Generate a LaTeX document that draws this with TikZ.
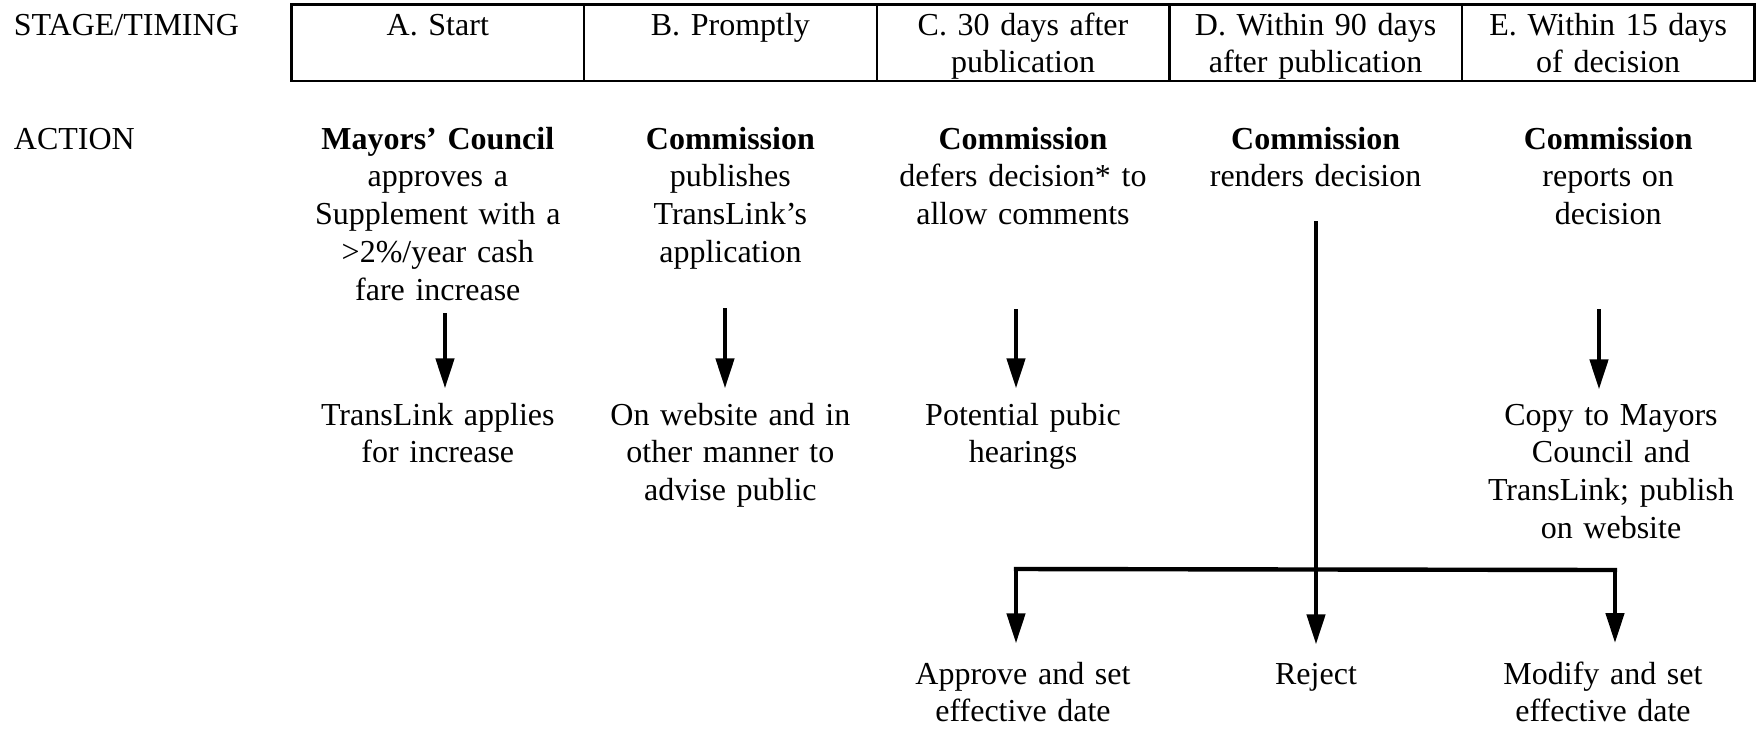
\documentclass[tikz,border=0pt]{standalone}
\usepackage{fontspec}
\setmainfont{Liberation Serif}
\usepackage{tikz}
\usetikzlibrary{arrows.meta, positioning, calc}
\newcommand{\mainsize}{\fontsize{16}{18.9}\selectfont}
\tikzset{
    lbl/.style = {inner sep=0pt, anchor=base west, font=\mainsize},
    txt/.style = {inner sep=0pt, anchor=base, text width=160pt,
        align=center, font=\mainsize},
    cell/.style = {draw, line width=1.2pt},
    arr/.style = {-{Triangle[length=15pt,width=9pt]}, line width=2.2pt},
    bar/.style = {line width=2.2pt, line cap=rect},
}

\begin{document}
\begin{tikzpicture}[x=0.5pt, y=-0.5pt]
        \useasboundingbox (0,0) rectangle (1758,730);
        % row labels
        \node [lbl] (stage) at (13.5,35) {STAGE/TIMING};
        \node [lbl] (action) at (13.5,149) {ACTION};
        % timing table
        \draw [cell] (291.5,4.5) rectangle (1754.5,80.7);
        \foreach \x in {584.1, 876.7, 1169.3, 1461.9}
            \draw [cell] (\x,4.5) -- (\x,80.7);
        \node [txt] (hA) at (437.8,35) {A. Start};
        \node [txt] (hB) at (730.4,35) {B. Promptly};
        \node [txt] (hC) at (1023,35) {C. 30 days after\\publication};
        \node [txt] (hD) at (1315.6,35) {D. Within 90 days\\after publication};
        \node [txt] (hE) at (1608.2,35) {E. Within 15 days\\of decision};
        % actions
        \node [txt] (actA) at (437.8,149) {\textbf{Mayors' Council}\\approves a\\Supplement with a\\>2\%/year cash\\fare increase};
        \node [txt] (actB) at (730.4,149) {\textbf{Commission}\\publishes\\TransLink's\\application};
        \node [txt] (actC) at (1023,149) {\textbf{Commission}\\defers decision* to\\allow comments};
        \node [txt] (actD) at (1315.6,149) {\textbf{Commission}\\renders decision};
        \node [txt] (actE) at (1608.2,149) {\textbf{Commission}\\reports on\\decision};
        % results
        \node [txt] (resA) at (437.8,425) {TransLink applies\\for increase};
        \node [txt] (resB) at (730.4,425) {On website and in\\other manner to\\advise public};
        \node [txt] (resC) at (1023,425) {Potential pubic\\hearings};
        \node [txt] (resE) at (1611,425) {Copy to Mayors\\Council and\\TransLink; publish\\on website};
        \node [txt] (approve) at (1023,684) {Approve and set\\effective date};
        \node [txt] (reject) at (1316,684) {Reject};
        \node [txt] (modify) at (1603,684) {Modify and set\\effective date};
        % arrows
        \coordinate (tA) at (445,313);
        \coordinate (tB) at (725,308);
        \coordinate (tC) at (1016,309);
        \coordinate (tE) at (1599,309);
        \coordinate (tD) at (1316,221);
        \coordinate (brL) at (1016,569);
        \coordinate (brR) at (1615,570);
        \foreach \t/\r in {tA/resA, tB/resB, tC/resC, tE/resE}
            \draw [arr, shorten >=7pt] (\t) -- (\t |- \r.north);
        \draw [bar] (brL) -- (brR);
        \draw [arr, shorten >=9pt] (tD) -- (reject.north);
        \draw [arr, shorten >=9pt] (brL) -- (brL |- approve.north);
        \draw [arr, shorten >=9pt] (brR) -- (brR |- modify.north);
\end{tikzpicture}
\end{document}
